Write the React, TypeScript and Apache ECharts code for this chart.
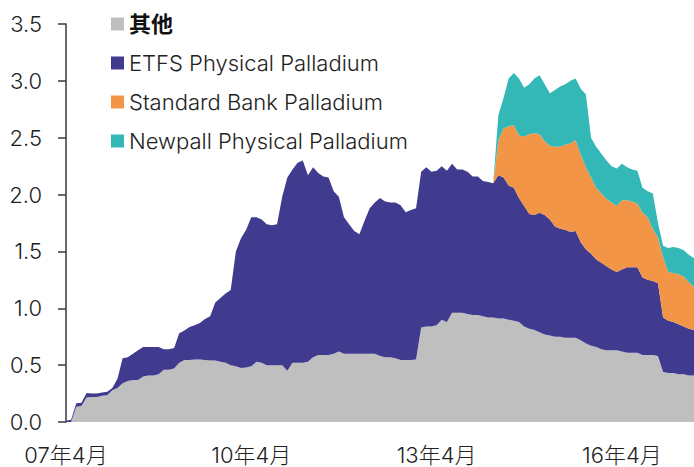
import React, { useEffect, useRef } from "react";
import * as echarts from "echarts";

// Monthly categories from 2007-04 to 2017-06
const startYear = 2007;
const startMonth = 4;
const monthCount = 123;
const categories: string[] = [];
for (let i = 0; i < monthCount; i++) {
  const t = startMonth - 1 + i;
  const y = startYear + Math.floor(t / 12);
  const m = (t % 12) + 1;
  categories.push(`${y}-${m < 10 ? "0" + m : m}`);
}

const seriesNames = [
  "其他",
  "ETFS Physical Palladium",
  "Standard Bank Palladium",
  "Newpall Physical Palladium",
];

const yTicks = [0, 0.5, 1.0, 1.5, 2.0, 2.5, 3.0, 3.5];

// 其他 (others)
const otherValues = [
  0, 0, 0.135, 0.14, 0.215, 0.22, 0.22, 0.23, 0.235, 0.28,
  0.3, 0.34, 0.36, 0.37, 0.37, 0.4, 0.41, 0.41, 0.42, 0.46,
  0.46, 0.47, 0.52, 0.545, 0.545, 0.55, 0.55, 0.545, 0.54, 0.54,
  0.53, 0.52, 0.5, 0.49, 0.475, 0.48, 0.49, 0.53, 0.52, 0.5,
  0.5, 0.5, 0.5, 0.45, 0.52, 0.52, 0.52, 0.53, 0.57, 0.59,
  0.59, 0.59, 0.6, 0.62, 0.6, 0.6, 0.6, 0.6, 0.6, 0.6,
  0.6, 0.58, 0.57, 0.57, 0.56, 0.545, 0.545, 0.545, 0.55, 0.83,
  0.84, 0.84, 0.85, 0.9, 0.88, 0.96, 0.96, 0.96, 0.95, 0.94,
  0.94, 0.93, 0.92, 0.92, 0.91, 0.91, 0.9, 0.89, 0.88, 0.84,
  0.82, 0.81, 0.79, 0.77, 0.76, 0.75, 0.75, 0.74, 0.74, 0.74,
  0.72, 0.69, 0.67, 0.66, 0.64, 0.63, 0.63, 0.63, 0.62, 0.61,
  0.61, 0.61, 0.59, 0.59, 0.59, 0.58, 0.44, 0.43, 0.43, 0.42,
  0.42, 0.41, 0.41,
];

// ETFS Physical Palladium
const etfsValues = [
  0.01, 0.02, 0.03, 0.03, 0.04, 0.03, 0.03, 0.03, 0.03, 0.02,
  0.08, 0.22, 0.21, 0.23, 0.26, 0.26, 0.25, 0.25, 0.24, 0.18,
  0.18, 0.18, 0.26, 0.26, 0.29, 0.3, 0.32, 0.36, 0.39, 0.51,
  0.56, 0.61, 0.66, 1.01, 1.14, 1.21, 1.31, 1.27, 1.26, 1.24,
  1.23, 1.24, 1.48, 1.7, 1.7, 1.76, 1.78, 1.64, 1.67, 1.6,
  1.57, 1.56, 1.43, 1.36, 1.2, 1.14, 1.08, 1.05, 1.17, 1.28,
  1.33, 1.39, 1.37, 1.36, 1.37, 1.36, 1.3, 1.32, 1.33, 1.37,
  1.4, 1.36, 1.36, 1.35, 1.33, 1.31, 1.26, 1.26, 1.25, 1.22,
  1.22, 1.19, 1.19, 1.18, 1.26, 1.24, 1.18, 1.17, 1.09, 1.06,
  1.01, 1.01, 1.05, 1.05, 1.02, 0.97, 0.95, 0.95, 0.93, 0.94,
  0.86, 0.83, 0.81, 0.77, 0.76, 0.74, 0.71, 0.69, 0.72, 0.75,
  0.75, 0.75, 0.68, 0.66, 0.65, 0.64, 0.48, 0.46, 0.45, 0.44,
  0.42, 0.41, 0.4,
];

// Standard Bank Palladium (from 2014-03)
const standardValues = [
  0, 0, 0, 0, 0, 0, 0, 0, 0, 0,
  0, 0, 0, 0, 0, 0, 0, 0, 0, 0,
  0, 0, 0, 0, 0, 0, 0, 0, 0, 0,
  0, 0, 0, 0, 0, 0, 0, 0, 0, 0,
  0, 0, 0, 0, 0, 0, 0, 0, 0, 0,
  0, 0, 0, 0, 0, 0, 0, 0, 0, 0,
  0, 0, 0, 0, 0, 0, 0, 0, 0, 0,
  0, 0, 0, 0, 0, 0, 0, 0, 0, 0,
  0, 0, 0, 0, 0.31, 0.43, 0.52, 0.55, 0.55, 0.61,
  0.7, 0.72, 0.69, 0.65, 0.65, 0.7, 0.72, 0.75, 0.78, 0.8,
  0.77, 0.72, 0.67, 0.63, 0.61, 0.59, 0.59, 0.58, 0.61, 0.59,
  0.58, 0.56, 0.57, 0.55, 0.46, 0.4, 0.53, 0.43, 0.43, 0.44,
  0.44, 0.41, 0.38,
];

// Newpall Physical Palladium (from 2014-03)
const newpallValues = [
  0, 0, 0, 0, 0, 0, 0, 0, 0, 0,
  0, 0, 0, 0, 0, 0, 0, 0, 0, 0,
  0, 0, 0, 0, 0, 0, 0, 0, 0, 0,
  0, 0, 0, 0, 0, 0, 0, 0, 0, 0,
  0, 0, 0, 0, 0, 0, 0, 0, 0, 0,
  0, 0, 0, 0, 0, 0, 0, 0, 0, 0,
  0, 0, 0, 0, 0, 0, 0, 0, 0, 0,
  0, 0, 0, 0, 0, 0, 0, 0, 0, 0,
  0, 0, 0, 0, 0.22, 0.27, 0.42, 0.46, 0.5, 0.43,
  0.44, 0.48, 0.52, 0.5, 0.46, 0.5, 0.53, 0.53, 0.55, 0.54,
  0.58, 0.64, 0.35, 0.36, 0.35, 0.34, 0.32, 0.33, 0.32, 0.29,
  0.28, 0.29, 0.22, 0.23, 0.31, 0.13, 0.1, 0.21, 0.23, 0.23,
  0.23, 0.24, 0.25,
];

const colors = ["#bfbfbf", "#403b8e", "#f39546", "#33b8b7"];
const FONT = "Inter, 'Noto Sans CJK SC', sans-serif";

export default function App() {
  const ref = useRef<HTMLDivElement>(null);
  useEffect(() => {
    document.body.style.margin = "0";
    if (!ref.current) return;
    const chart = echarts.init(ref.current, undefined, { renderer: "svg" });
    const allValues = [otherValues, etfsValues, standardValues, newpallValues];
    chart.setOption({
      animation: false,
      color: colors,
      textStyle: { fontFamily: FONT },
      legend: {
        orient: "vertical",
        left: 106,
        top: 8,
        itemWidth: 13,
        itemHeight: 13,
        itemGap: 17,
        icon: "rect",
        textStyle: { fontSize: 22, color: "#222", fontFamily: FONT, fontWeight: 300 },
        data: [
          { name: seriesNames[0], textStyle: { fontWeight: "bold", color: "#111" } },
          { name: seriesNames[1] },
          { name: seriesNames[2] },
          { name: seriesNames[3] },
        ],
      },
      grid: { left: 66, right: 0, top: 24, bottom: 45, containLabel: false },
      xAxis: {
        type: "category",
        data: categories,
        boundaryGap: false,
        axisLine: { show: false },
        axisTick: { show: false },
        axisLabel: {
          interval: (index: number) => index % 36 === 0,
          formatter: (v: string) => {
            const [y, m] = v.split("-");
            return `${y.slice(2)}年${parseInt(m, 10)}月`;
          },
          fontSize: 22,
          color: "#222",
          margin: 22,
          fontFamily: FONT,
          fontWeight: 300,
        },
        splitLine: { show: false },
      },
      yAxis: {
        type: "value",
        min: yTicks[0],
        max: yTicks[yTicks.length - 1],
        interval: 0.5,
        axisLine: { show: true, lineStyle: { color: "#333a44", width: 1.5 } },
        axisTick: { show: true, inside: false, length: 8, lineStyle: { color: "#333a44", width: 1.5 } },
        axisLabel: {
          formatter: (v: number) => v.toFixed(1),
          fontSize: 22,
          color: "#222",
          margin: 24,
          fontFamily: FONT,
          fontWeight: 300,
        },
        splitLine: { show: false },
      },
      series: seriesNames.map((name, i) => ({
        name,
        type: "line",
        stack: "total",
        data: allValues[i],
        symbol: "none",
        showSymbol: false,
        lineStyle: { width: 0 },
        areaStyle: { color: colors[i], opacity: 1 },
        itemStyle: { color: colors[i] },
      })),
    });
    return () => chart.dispose();
  }, []);
  return <div ref={ref} style={{ width: 694, height: 467 }} />;
}
